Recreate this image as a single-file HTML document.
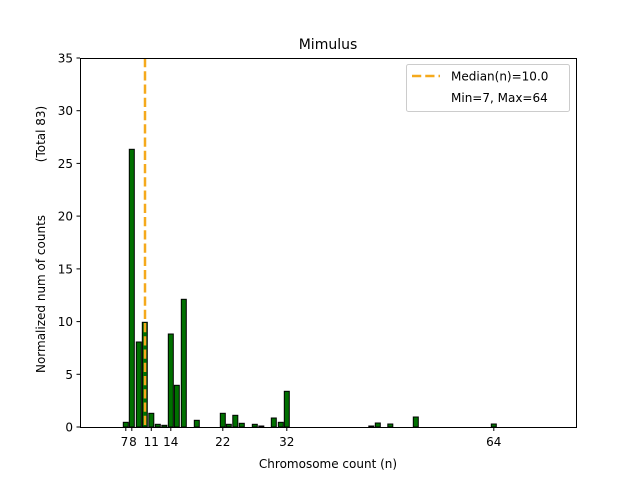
<!DOCTYPE html>
<html><head><style>body{margin:0;background:#fff}svg{display:block}text{font-family:"DejaVu Sans","Liberation Sans",sans-serif;fill:#000}</style></head>
<body>
<svg width="640" height="480" viewBox="0 0 640 480">
<rect width="640" height="480" fill="#fff"/>
<g fill="#007000" stroke="#000" stroke-width="1">
<rect x="123.3" y="422.3" width="5" height="4.7"/>
<rect x="129.3" y="149.3" width="5" height="277.7"/>
<rect x="136.3" y="342" width="5" height="85"/>
<rect x="142.3" y="322.3" width="5" height="104.7"/>
<rect x="148.8" y="413.3" width="5" height="13.7"/>
<rect x="155.3" y="424.3" width="5" height="2.7"/>
<rect x="161.8" y="425.3" width="5" height="1.7"/>
<rect x="168.3" y="334" width="5" height="93"/>
<rect x="174.3" y="385.3" width="5" height="41.7"/>
<rect x="181.3" y="299.3" width="5" height="127.7"/>
<rect x="194.3" y="420.3" width="5" height="6.7"/>
<rect x="220.3" y="413.3" width="5" height="13.7"/>
<rect x="226.3" y="424.3" width="5" height="2.7"/>
<rect x="232.8" y="415.3" width="5" height="11.7"/>
<rect x="239.3" y="423.3" width="5" height="3.7"/>
<rect x="252.3" y="424.3" width="5" height="2.7"/>
<rect x="258.8" y="426" width="5" height="1"/>
<rect x="271.3" y="418" width="5" height="9"/>
<rect x="278.3" y="422.3" width="5" height="4.7"/>
<rect x="284.3" y="391.3" width="5" height="35.7"/>
<rect x="368.8" y="426" width="5" height="1"/>
<rect x="375.3" y="423" width="5" height="4"/>
<rect x="387.8" y="424" width="5" height="3"/>
<rect x="413.3" y="417" width="5" height="10"/>
<rect x="491.3" y="424" width="5" height="3"/>
</g>
<line x1="145" y1="58" x2="145" y2="427" stroke="#f5a91c" stroke-width="2.5" stroke-dasharray="9.25,4"/>
<rect x="80.5" y="58.5" width="496" height="369" fill="none" stroke="#000" stroke-width="1"/>
<g stroke="#000" stroke-width="1">
<line x1="80" y1="427" x2="76.5" y2="427"/><line x1="80" y1="374.3" x2="76.5" y2="374.3"/><line x1="80" y1="321.6" x2="76.5" y2="321.6"/><line x1="80" y1="268.9" x2="76.5" y2="268.9"/><line x1="80" y1="216.1" x2="76.5" y2="216.1"/><line x1="80" y1="163.4" x2="76.5" y2="163.4"/><line x1="80" y1="110.7" x2="76.5" y2="110.7"/><line x1="80" y1="58" x2="76.5" y2="58"/>
<line x1="125.8" y1="427" x2="125.8" y2="431"/><line x1="131.8" y1="427" x2="131.8" y2="431"/><line x1="151.3" y1="427" x2="151.3" y2="431"/><line x1="170.8" y1="427" x2="170.8" y2="431"/><line x1="222.8" y1="427" x2="222.8" y2="431"/><line x1="286.8" y1="427" x2="286.8" y2="431"/><line x1="493.8" y1="427" x2="493.8" y2="431"/>
</g>
<g font-size="12" text-anchor="end">
<text x="73" y="431.5">0</text><text x="73" y="378.8">5</text><text x="73" y="326">10</text><text x="73" y="273.3">15</text><text x="73" y="220.6">20</text><text x="73" y="167.9">25</text><text x="73" y="115.2">30</text><text x="73" y="62.5">35</text>
</g>
<g font-size="12" text-anchor="middle">
<text x="124.5" y="446">7</text><text x="133" y="446">8</text><text x="151.3" y="446">11</text><text x="170.8" y="446">14</text><text x="222.8" y="446">22</text><text x="286.8" y="446">32</text><text x="493.8" y="446">64</text>
<text x="328" y="468">Chromosome count (n)</text>
<text x="328" y="49" font-size="14">Mimulus</text>
</g>
<text transform="translate(45,294) rotate(-90)" font-size="12" text-anchor="middle">Normalized num of counts</text>
<text transform="translate(45,134) rotate(-90)" font-size="12" text-anchor="middle">(Total 83)</text>
<rect x="406.5" y="64.5" width="163" height="47" rx="2" fill="#fff" fill-opacity="0.8" stroke="#ccc"/>
<line x1="412" y1="76" x2="440" y2="76" stroke="#f5a91c" stroke-width="2.5" stroke-dasharray="9.25,4"/>
<g font-size="12"><text x="451" y="80.5">Median(n)=10.0</text><text x="451" y="102">Min=7, Max=64</text></g>
</svg>
</body></html>
